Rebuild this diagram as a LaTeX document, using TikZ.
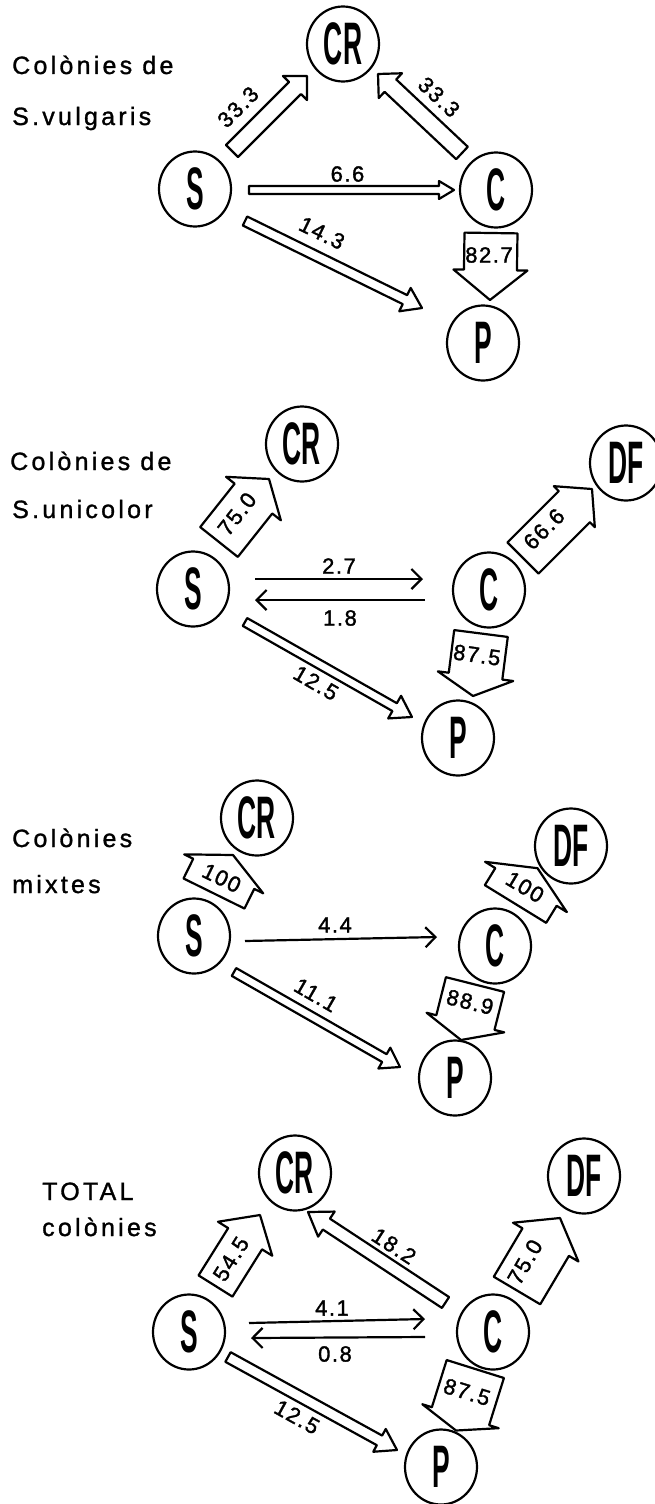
\documentclass[tikz,border=0pt]{standalone}
\usepackage{fontspec}
\setmainfont{Liberation Sans}
\newfontfamily\titlef{Liberation Sans}[LetterSpace=13,FakeBold=1.2]
\newfontfamily\numf{Liberation Sans}[LetterSpace=7,FakeBold=1.5]
\newfontfamily\condf{Liberation Sans}[FakeStretch=0.44]
\usetikzlibrary{calc,shapes.geometric,arrows.meta}
\tikzset{
  circ/.style={draw, line width=2.2pt, ellipse, minimum width=72pt, minimum height=75pt, inner sep=0pt, font=\condf\bfseries\fontsize{60}{60}\selectfont},
  ttl/.style={anchor=base west, inner sep=0pt, font=\titlef\fontsize{25}{25}\selectfont},
  lab/.style={inner sep=0pt, font=\numf\fontsize{22}{22}\selectfont},
  blockline/.style={draw, line width=2.2pt, line join=round},
  thinarr/.style={line width=2.2pt, -{Straight Barb[length=10pt,width=20pt]}},
}
% tail, tip, shaft half width, head half width, head length
\newcommand\blockarrow[5]{%
  \coordinate (bab) at ($(#2)!#5!(#1)$);
  \draw[blockline] ($(#1)!#3!90:(#2)$) -- ($(bab)!#3!90:(#2)$) -- ($(bab)!#4!90:(#2)$) -- (#2)
    -- ($(bab)!#4!-90:(#2)$) -- ($(bab)!#3!-90:(#2)$) -- ($(#1)!#3!-90:(#2)$) -- cycle;
}
\begin{document}
\begin{tikzpicture}[x=1pt,y=-1pt]
\useasboundingbox (0,0) rectangle (655,1504);

% ---------- Panel 1 ----------
\node[ttl] (t1a) at (12,74) {Colònies de};
\node[ttl] (t1b) at (12,125) {S.vulgaris};
\node[circ] (CR1) at (343,44) {CR};
\node[circ] (S1) at (195,189) {S};
\node[circ] (C1) at (496,190) {C};
\node[circ] (P1) at (483,343) {P};
\coordinate (a1t) at (232,151); \coordinate (a1h) at (307,76);
\coordinate (b1t) at (462,153); \coordinate (b1h) at (378,74);
\coordinate (c1t) at (249,190); \coordinate (c1h) at (454,190);
\coordinate (d1t) at (245,221); \coordinate (d1h) at (422,308);
\coordinate (e1t) at (491,233); \coordinate (e1h) at (490,300);
\blockarrow{a1t}{a1h}{8.5pt}{17pt}{17pt}
\blockarrow{b1t}{b1h}{8.5pt}{17pt}{17pt}
\blockarrow{c1t}{c1h}{4pt}{9pt}{15pt}
\blockarrow{d1t}{d1h}{5pt}{13pt}{19pt}
\blockarrow{e1t}{e1h}{26.5pt}{37pt}{30pt}
\node[lab, rotate=45] (l1a) at (238,107) {33.3};
\node[lab, rotate=-43] (l1b) at (439,97) {33.3};
\node[lab] (l1c) at (347.5,174) {6.6};
\node[lab, rotate=-26] (l1d) at (322,233) {14.3};
\node[lab] (l1e) at (489,255) {82.7};

% ---------- Panel 2 ----------
\node[ttl] (t2a) at (10,470) {Colònies de};
\node[ttl] (t2b) at (12,518) {S.unicolor};
\node[circ] (CR2) at (302,444) {CR};
\node[circ] (DF2) at (626,463) {DF};
\node[circ] (S2) at (193,589) {S};
\node[circ] (C2) at (489,590) {C};
\node[circ] (P2) at (458,738) {P};
\coordinate (a2t) at (219,542); \coordinate (a2h) at (269,479);
\coordinate (b2t) at (523,558); \coordinate (b2h) at (592,489);
\coordinate (c2t) at (255,579); \coordinate (c2h) at (423,579);
\coordinate (d2t) at (425,600); \coordinate (d2h) at (255,600);
\coordinate (e2t) at (245,622); \coordinate (e2h) at (412,717);
\coordinate (f2t) at (481,633.5); \coordinate (f2h) at (473,696);
\blockarrow{a2t}{a2h}{24pt}{35pt}{25pt}
\blockarrow{b2t}{b2h}{22pt}{29pt}{25pt}
\draw[thinarr] (c2t) -- (c2h);
\draw[thinarr] (d2t) -- (d2h);
\blockarrow{e2t}{e2h}{4.5pt}{13pt}{20pt}
\blockarrow{f2t}{f2h}{27pt}{38pt}{20pt}
\node[lab, rotate=52] (l2a) at (237,514) {75.0};
\node[lab, rotate=45] (l2b) at (544,529) {66.6};
\node[lab] (l2c) at (339,566) {2.7};
\node[lab] (l2d) at (340,618) {1.8};
\node[lab, rotate=-30] (l2e) at (316,683) {12.5};
\node[lab, rotate=-8] (l2f) at (477,655) {87.5};

% ---------- Panel 3 ----------
\node[ttl] (t3a) at (12,847) {Colònies};
\node[ttl] (t3b) at (12,893) {mixtes};
\node[circ] (CR3) at (257,818) {CR};
\node[circ] (DF3) at (571,846) {DF};
\node[circ] (S3) at (194,936) {S};
\node[circ] (C3) at (495,946) {C};
\node[circ] (P3) at (455,1078) {P};
\coordinate (a3t) at (214,893.5); \coordinate (a3h) at (233,855);
\coordinate (b3t) at (515.5,904); \coordinate (b3h) at (537.5,868.2);
\coordinate (c3t) at (245,941); \coordinate (c3h) at (437,937);
\coordinate (d3t) at (234,972); \coordinate (d3h) at (400,1067);
\coordinate (e3t) at (475,984.5); \coordinate (e3h) at (461,1040);
\blockarrow{a3t}{a3h}{34pt}{44pt}{21pt}
\blockarrow{b3t}{b3h}{36pt}{48pt}{22pt}
\draw[thinarr] (c3t) -- (c3h);
\blockarrow{d3t}{d3h}{4.5pt}{12pt}{18pt}
\blockarrow{e3t}{e3h}{30pt}{40pt}{18pt}
\node[lab, rotate=-26] (l3a) at (221.7,878) {100};
\node[lab, rotate=-31] (l3b) at (525,887) {100};
\node[lab] (l3c) at (335,925) {4.4};
\node[lab, rotate=-30] (l3d) at (316,995) {11.1};
\node[lab, rotate=-14] (l3e) at (470,1002) {88.9};

% ---------- Panel 4 ----------
\node[ttl] (t4a) at (42,1200) {TOTAL};
\node[ttl] (t4b) at (42,1236) {colònies};
\node[circ] (CR4) at (295,1173) {CR};
\node[circ] (DF4) at (584,1176) {DF};
\node[circ] (S4) at (189,1332) {S};
\node[circ] (C4) at (493,1332) {C};
\node[circ] (P4) at (441,1467) {P};
\coordinate (a4t) at (215.5,1286); \coordinate (a4h) at (260,1215);
\coordinate (b4t) at (445.5,1302.5); \coordinate (b4h) at (308,1212);
\coordinate (c4t) at (517,1290.5); \coordinate (c4h) at (560,1218);
\coordinate (d4t) at (249,1323); \coordinate (d4h) at (425,1319);
\coordinate (e4t) at (425,1337); \coordinate (e4h) at (251,1338);
\coordinate (f4t) at (228,1357); \coordinate (f4h) at (397,1450);
\coordinate (g4t) at (475.3,1369); \coordinate (g4h) at (456,1430.5);
\blockarrow{a4t}{a4h}{20pt}{32pt}{28pt}
\blockarrow{b4t}{b4h}{6.5pt}{15pt}{22pt}
\blockarrow{c4t}{c4h}{27pt}{38pt}{28pt}
\draw[thinarr] (d4t) -- (d4h);
\draw[thinarr] (e4t) -- (e4h);
\blockarrow{f4t}{f4h}{5.5pt}{13pt}{20pt}
\blockarrow{g4t}{g4h}{30pt}{40pt}{15pt}
\node[lab, rotate=58] (l4a) at (231,1259) {54.5};
\node[lab, rotate=-33] (l4b) at (394,1246) {18.2};
\node[lab, rotate=60] (l4c) at (525,1262) {75.0};
\node[lab] (l4d) at (332,1308) {4.1};
\node[lab] (l4e) at (335,1354) {0.8};
\node[lab, rotate=-29] (l4f) at (297,1417) {12.5};
\node[lab, rotate=-17] (l4g) at (467,1392) {87.5};
\end{tikzpicture}
\end{document}
